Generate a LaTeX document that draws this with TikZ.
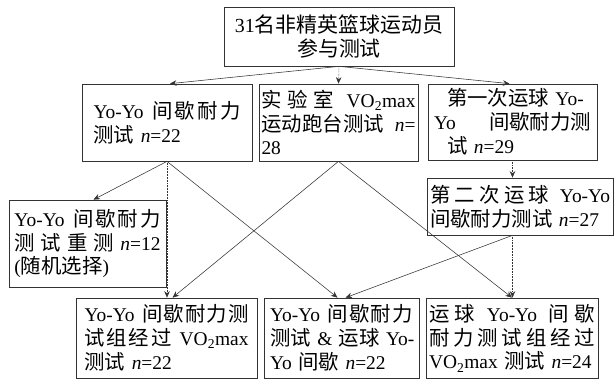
\documentclass[tikz,border=0pt]{standalone}
\usepackage{fontspec}
\setmainfont{Liberation Serif}
\newfontfamily\cjk[Scale=1.05]{Noto Sans CJK SC}
\newcommand\zh[1]{{\cjk #1}}
\newcommand\hf{\hfill}
\newcommand\sline[1]{\makebox[\hsize][s]{#1}}
\newcommand\boxfont{\fontsize{19.5}{24}\selectfont}
\newcommand\topfont{\fontsize{20}{24}\selectfont}
\AtBeginDocument{\lineskiplimit=-10pt}
\usetikzlibrary{arrows.meta,calc}
\tikzset{
  box/.style={draw=black!80, line width=0.7bp, inner sep=0pt, align=left, font=\boxfont},
  conn/.style={draw=black!80, line width=0.55bp, -{Stealth[length=6.5bp,width=5.5bp]}},
  vconn/.style={conn, densely dotted},
}
\begin{document}
\begin{tikzpicture}[x=1bp,y=-1bp]
\useasboundingbox (0,0) rectangle (614,380);
% top
\node[box, align=center, font=\topfont,
  minimum width=230bp, minimum height=59bp, text width=222bp] (T) at (339,36.5)
  {31\zh{名非精英篮球运动员}\\\zh{参与测试}};
% row 2
\node[box, minimum width=170bp, minimum height=77bp, text width=147bp] (A) at (167,122.5)
  {\sline{Yo-Yo \hf{}\zh{间\hf{}歇\hf{}耐\hf{}力}}\\\zh{测试} \textit{n}=22};
\node[box, minimum width=159bp, minimum height=77bp, text width=154bp] (B) at (338.5,122.5)
  {\sline{\zh{实\hf{}验\hf{}室}\hf{} VO\textsubscript{2}max}\\\sline{\zh{运动跑台测试} \hf{}\textit{n}=}\\28};
\node[box, minimum width=169bp, minimum height=76bp, text width=157bp] (C) at (512.5,122)
  {\hspace*{13bp}\zh{第一次运球} Yo-\\\sline{Yo\hf{}\zh{间歇耐力测}}\\\hspace*{13bp}\zh{试} \textit{n}=29};
% second dribble test
\node[box, minimum width=186bp, minimum height=57bp, text width=180bp] (D) at (520,206.5)
  {\sline{\zh{第\hf{}二\hf{}次\hf{}运\hf{}球}\hf{} Yo-Yo}\\\zh{间歇耐力测试} \textit{n}=27};
% retest
\node[box, minimum width=157bp, minimum height=87bp, text width=146bp] (E) at (87.5,243.5)
  {\sline{Yo-Yo \hf{}\zh{间\hf{}歇\hf{}耐\hf{}力}}\\\sline{\zh{测\hf{}试\hf{}重\hf{}测}\hf{}\textit{n}=12}\\(\zh{随机选择})};
% bottom row
\node[box, minimum width=181bp, minimum height=80bp, text width=164bp] (F) at (166.5,338)
  {\sline{Yo-Yo \hf{}\zh{间\hf{}歇\hf{}耐\hf{}力\hf{}测}}\\\sline{\zh{试\hf{}组\hf{}经\hf{}过}\hf{} VO\textsubscript{2}max}\\\zh{测试} \textit{n}=22};
\node[box, minimum width=155bp, minimum height=80bp, text width=143bp] (G) at (341.5,338)
  {\sline{Yo-Yo \hf{}\zh{间\hf{}歇\hf{}耐\hf{}力}}\\\sline{\zh{测试} \hf{}\&\hf{} \zh{运球} \hf{}Yo-}\\Yo \zh{间歇} \textit{n}=22};
\node[box, minimum width=172bp, minimum height=80bp, text width=166bp] (H) at (512,338)
  {\sline{\zh{运\hf{}球}\hf{} Yo-Yo\hf{} \zh{间\hf{}歇}}\\\sline{\zh{耐\hf{}力\hf{}测\hf{}试\hf{}组\hf{}经\hf{}过}}\\VO\textsubscript{2}max \zh{测试} \textit{n}=24};
% connectors
\draw[conn] (T.south) -- ($(A.north)+(3,0)$);
\draw[vconn] (T.south) -- (B.north);
\draw[conn] (T.south) -- ($(C.north)+(-3,0)$);
\draw[conn] (A.south) -- ($(E.north)+(6,0)$);
\draw[vconn] (A.south) -- (A.south |- F.north);
\draw[conn] (A.south) -- ($(G.north)+(-4,0)$);
\draw[conn] (B.south) -- ($(F.north)+(6,0)$);
\draw[conn] (B.south) -- (H.north);
\draw[vconn] (C.south) -- (C.south |- D.north);
\draw[conn] (C.south |- D.south) -- ($(G.north)+(4,0)$);
\draw[vconn] (C.south |- D.south) -- (C.south |- H.north);
\end{tikzpicture}
\end{document}
